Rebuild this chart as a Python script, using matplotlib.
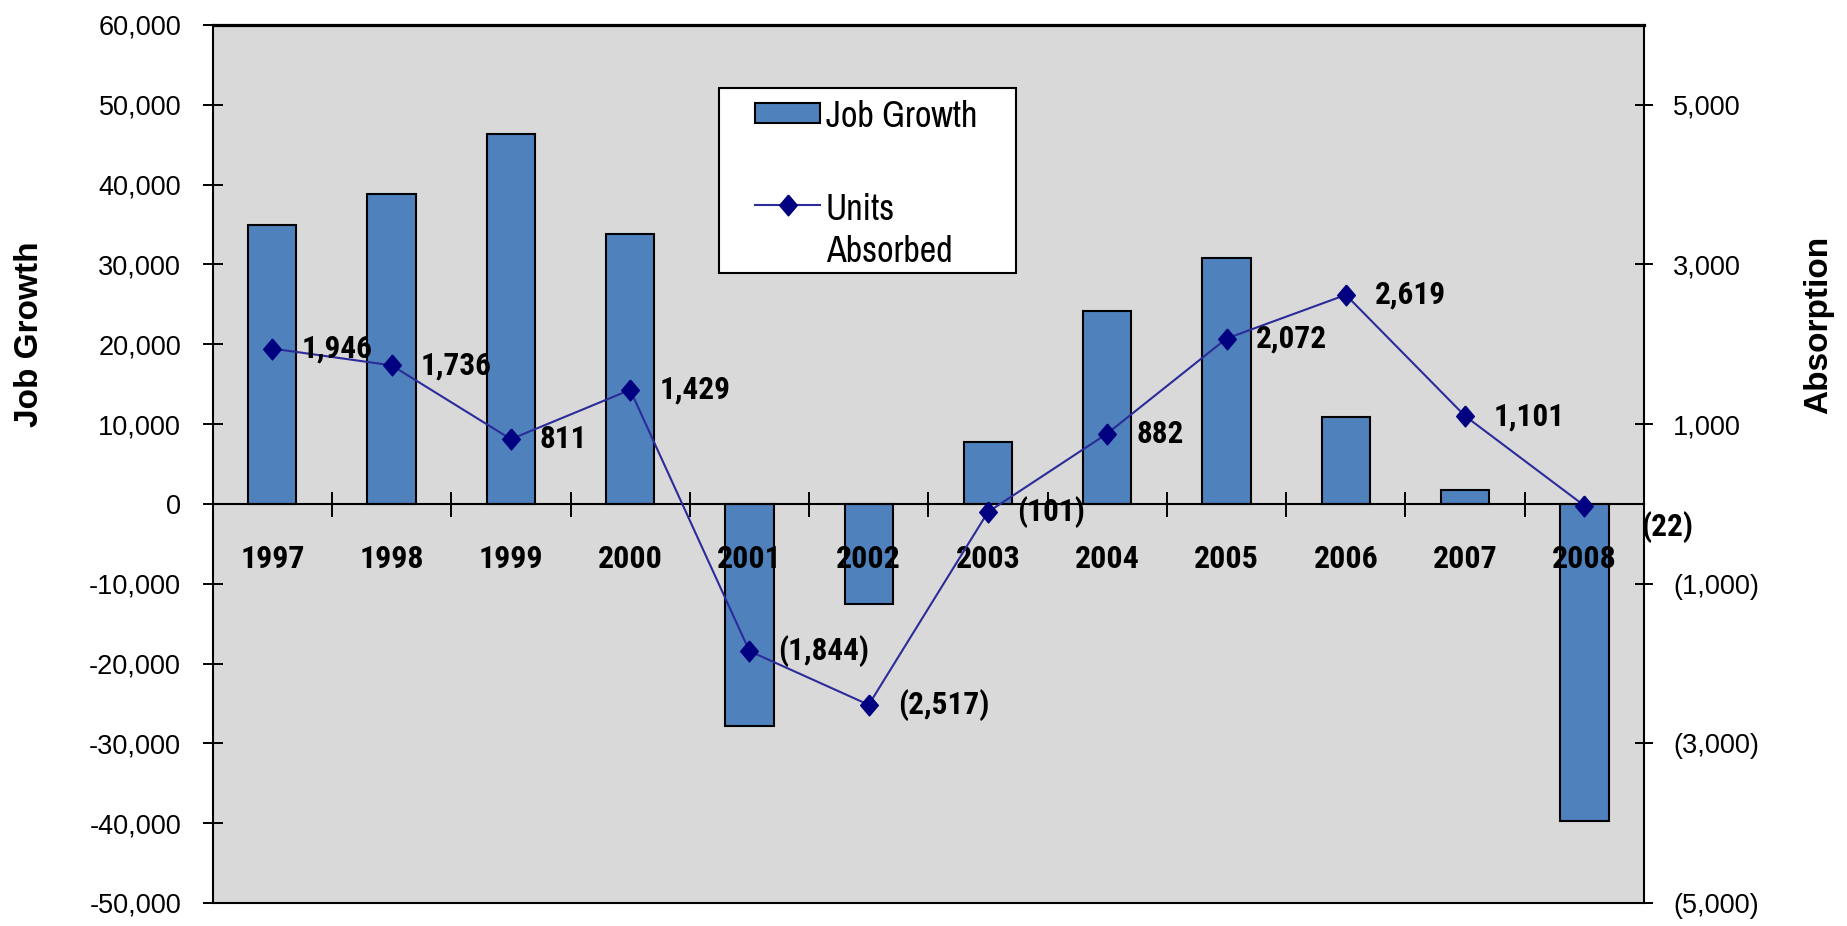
import matplotlib
matplotlib.use("Agg")
import matplotlib.pyplot as plt
from matplotlib import font_manager
from matplotlib.lines import Line2D
from matplotlib.patches import Rectangle
from matplotlib.ticker import FuncFormatter

# ---- data ----
years = ["1997", "1998", "1999", "2000", "2001", "2002",
         "2003", "2004", "2005", "2006", "2007", "2008"]
job_growth = [35000, 38800, 46400, 33800, -27800, -12500,
              7800, 24200, 30800, 10900, 1800, -39700]
units_absorbed = [1946, 1736, 811, 1429, -1844, -2517,
                  -101, 882, 2072, 2619, 1101, -22]
left_ticks = [60000, 50000, 40000, 30000, 20000, 10000, 0,
              -10000, -20000, -30000, -40000, -50000]
right_ticks = [5000, 3000, 1000, -1000, -3000, -5000]

# ---- fonts ----
fonts = font_manager.fontManager.ttflist
installed = {f.name for f in fonts}


def weight_num(w):
    if isinstance(w, (int, float)):
        return w
    return font_manager.weight_dict.get(str(w), 400)


def first_font(candidates, need_bold=False):
    for name in candidates:
        if name not in installed:
            continue
        if need_bold and not any(f.name == name and weight_num(f.weight) >= 600
                                 for f in fonts):
            continue
        return name
    return "DejaVu Sans"


NARROW_CANDIDATES = ["Liberation Sans Narrow", "Arial Narrow", "Archivo Narrow",
                     "Roboto Condensed", "PT Sans Narrow", "Open Sans Condensed",
                     "Liberation Sans"]
REG = first_font(["Liberation Sans", "Arimo", "DejaVu Sans"])
NARROW = first_font(NARROW_CANDIDATES)
NARROW_BOLD = first_font(NARROW_CANDIDATES, need_bold=True)

BAR_BLUE = "#4F81BD"
LINE_BLUE = "#2B2B9A"
MARKER_NAVY = "#000080"
PLOT_BG = "#D9D9D9"
DIAMOND = [(0, 1), (0.85, 0), (0, -1), (-0.85, 0), (0, 1)]

W, H, DPI = 1847, 926, 100
fig = plt.figure(figsize=(W / DPI, H / DPI), dpi=DPI)
fig.patch.set_facecolor("white")

ax = fig.add_axes([212.7 / W, 1 - 903 / H, (1644 - 212.7) / W, (903 - 25) / H])
ax.set_facecolor(PLOT_BG)
ax.set_axisbelow(False)  # year labels and the zero line sit on top of the bars
ax2 = ax.twinx()

x = list(range(len(years)))

# bars on the job-growth scale
ax.bar(x, job_growth, width=0.405, color=BAR_BLUE, edgecolor="black",
       linewidth=1.5, zorder=1)
ax.set_xlim(-0.5, len(years) - 0.5)
ax.set_ylim(-50000, 60000)

# line on the absorption scale
ax2.plot(x, units_absorbed, color=LINE_BLUE, linewidth=1.5,
         marker=DIAMOND, markersize=15, markerfacecolor=MARKER_NAVY,
         markeredgecolor=MARKER_NAVY, zorder=3)
ax2.set_ylim(-5000, 6000)


def paren_fmt(v):
    v = int(round(v))
    return f"({abs(v):,})" if v < 0 else f"{v:,}"


# value labels beside each marker
for i, v in enumerate(units_absorbed):
    off = (29, 0)
    if i == len(units_absorbed) - 1:
        off = (57, -21)
    ax2.annotate(paren_fmt(v), (x[i], v), xytext=off, textcoords="offset pixels",
                 ha="left", va="center", fontsize=22.5, fontweight="bold",
                 family=NARROW_BOLD, color="black", annotation_clip=False,
                 zorder=4)

# x axis sits on the zero line; ticks mark category boundaries
ax.spines["bottom"].set_position(("data", 0))
ax.set_xticks([i + 0.5 for i in x[:-1]])
ax.set_xticklabels([])
ax.tick_params(axis="x", which="major", direction="inout", length=18,
               width=1.4, color="black")
ax.set_xticks(x, minor=True)
ax.set_xticklabels(years, minor=True, fontsize=23, fontweight="bold",
                   family=NARROW_BOLD)
ax.tick_params(axis="x", which="minor", length=0, pad=29)

# left axis
ax.set_yticks(left_ticks)
ax.yaxis.set_major_formatter(FuncFormatter(lambda v, p: f"{int(v):,}"))
ax.tick_params(axis="y", direction="inout", length=14.5, width=1.4,
               labelsize=19.5, pad=15.5)
for lab in ax.get_yticklabels():
    lab.set_family(REG)
ax.set_ylabel("Job Growth", fontsize=24, fontweight="bold", family=REG)
ax.yaxis.set_label_coords(-0.117, 0.648)

# right axis
ax2.set_yticks(right_ticks)
ax2.yaxis.set_major_formatter(FuncFormatter(lambda v, p: paren_fmt(v)))
ax2.tick_params(axis="y", direction="inout", length=13, width=1.4,
                labelsize=19.5, pad=14.5)
for lab in ax2.get_yticklabels():
    lab.set_family(REG)
ax2.set_ylabel("Absorption", fontsize=24, fontweight="bold", family=REG,
               rotation=90)
ax2.yaxis.set_label_coords(1.111, 0.658)

# frame
for sp in ("left", "bottom"):
    ax.spines[sp].set_linewidth(1.5)
ax.spines["top"].set_linewidth(2.3)
ax.spines["right"].set_visible(False)
ax2.spines["left"].set_visible(False)
ax2.spines["top"].set_visible(False)
ax2.spines["right"].set_linewidth(1.5)
ax2.spines["bottom"].set_linewidth(1.5)


# legend box, placed in figure pixels
def fx(px):
    return px / W


def fy(py):
    return 1 - py / H


fig.add_artist(Rectangle((fx(719), fy(273)), fx(1016) - fx(719), fy(88) - fy(273),
                         transform=fig.transFigure, facecolor="white",
                         edgecolor="black", linewidth=1.5, zorder=10))
fig.add_artist(Rectangle((fx(755), fy(123)), fx(820) - fx(755), fy(103) - fy(123),
                         transform=fig.transFigure, facecolor=BAR_BLUE,
                         edgecolor="black", linewidth=1.5, zorder=11))
fig.add_artist(Line2D([fx(755), fx(820)], [fy(205), fy(205)],
                      transform=fig.transFigure, color=LINE_BLUE, linewidth=1.5,
                      zorder=11))
fig.add_artist(Line2D([fx(787.5)], [fy(205)], transform=fig.transFigure,
                      marker=DIAMOND, markersize=15, color=MARKER_NAVY,
                      linestyle="none", zorder=12))
for txt, base in (("Job Growth", 127), ("Units", 220), ("Absorbed", 262)):
    fig.text(fx(826), fy(base), txt, fontsize=26, family=NARROW,
             ha="left", va="baseline", color="black", zorder=12)

fig.savefig("out.png", dpi=DPI, facecolor="white")
